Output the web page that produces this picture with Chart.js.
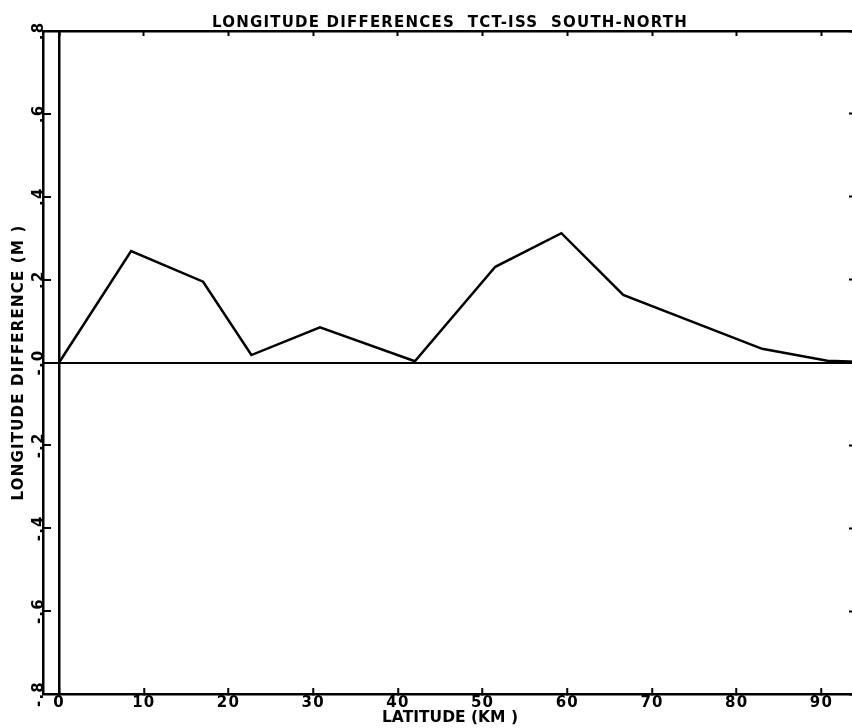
<!DOCTYPE html>
<html>
<head>
<meta charset="utf-8">
<script src="https://cdn.jsdelivr.net/npm/chart.js@4/dist/chart.umd.min.js"></script>
<style>
html,body{margin:0;padding:0;overflow:hidden;background:#fff;width:852px;height:728px}
canvas{display:block}
</style>
</head>
<body>
<canvas id="c" width="864" height="728"></canvas>
<script>
// ---- chart data ----
const titleText = 'LONGITUDE DIFFERENCES  TCT-ISS  SOUTH-NORTH';
const xAxisTitle = 'LATITUDE (KM )';
const yAxisTitle = 'LONGITUDE DIFFERENCE (M )';

const latitudeKm    = [0, 8.5, 17.0, 22.7, 30.8, 42.0, 51.5, 59.3, 66.6, 83.0, 90.7, 94.2];
const longitudeDiff = [0, 0.269, 0.195, 0.018, 0.085, 0.003, 0.231, 0.312, 0.163, 0.033, 0.004, 0.002];

const xTicks      = [0, 10, 20, 30, 40, 50, 60, 70, 80, 90];
const xTickLabels = ['0', '10', '20', '30', '40', '50', '60', '70', '80', '90'];
const yTicks      = [-0.8, -0.6, -0.4, -0.2, 0, 0.2, 0.4, 0.6, 0.8];
const yTickLabels = ['-.8', '-.6', '-.4', '-.2', '-.0', '.2', '.4', '.6', '.8'];

const xMin = -1.9, xMax = 94.2;
const yMin = -0.8, yMax = 0.8;

// ---- helpers ----
const isZero = (c) => c.tick && Math.abs(c.tick.value) < 1e-9;
const xLabel = (v) => { const i = xTicks.findIndex(t => Math.abs(t - v) < 1e-9); return i >= 0 ? xTickLabels[i] : ''; };
const yLabel = (v) => { const i = yTicks.findIndex(t => Math.abs(t - v) < 1e-9); return i >= 0 ? yTickLabels[i] : ''; };
const setTicks = (arr) => (scale) => { scale.ticks = arr.map(v => ({ value: v })); };

const spacingPlugin = {
  id: 'spacing',
  beforeDraw(chart) { chart.ctx.letterSpacing = '1.2px'; },
  afterDatasetsDraw(chart) { chart.ctx.letterSpacing = '0px'; },
  afterDraw(chart) { chart.ctx.letterSpacing = '0px'; }
};

Chart.defaults.font.family = "'DejaVu Sans', sans-serif";
Chart.defaults.font.weight = 'bold';
Chart.defaults.color = '#000';

new Chart(document.getElementById('c'), {
  type: 'line',
  data: {
    datasets: [{
      data: latitudeKm.map((x, i) => ({ x, y: longitudeDiff[i] })),
      borderColor: '#000',
      borderWidth: 2.5,
      pointRadius: 0,
      tension: 0,
      fill: false
    }]
  },
  options: {
    responsive: false,
    devicePixelRatio: 1,
    animation: false,
    layout: { padding: { left: 0, right: 7, top: 0, bottom: 0 } },
    plugins: {
      legend: { display: false },
      tooltip: { enabled: false },
      title: {
        display: true,
        text: titleText,
        fullSize: false,
        color: '#000',
        font: { size: 15, weight: 'bold' },
        padding: { top: 14, bottom: -1 }
      }
    },
    scales: {
      x: {
        type: 'linear', position: 'bottom', min: xMin, max: xMax,
        afterBuildTicks: setTicks(xTicks),
        afterFit: (s) => { s.height = 34; },
        ticks: { callback: xLabel, autoSkip: false, maxRotation: 0, padding: 6, color: '#000', font: { size: 15, weight: 'bold' }, z: 0 },
        grid: { z: 1, color: (c) => isZero(c) ? '#000' : 'rgba(0,0,0,0)', lineWidth: 2.5, drawTicks: true, tickLength: -6, tickColor: '#000', tickWidth: 2 },
        border: { display: true, color: '#000', width: 2.5, z: 1 },
        title: { display: true, text: xAxisTitle, color: '#000', font: { size: 15.5, weight: 'bold' }, padding: { top: 0, bottom: 1 } }
      },
      x2: {
        type: 'linear', position: 'top', min: xMin, max: xMax,
        afterBuildTicks: setTicks(xTicks),
        afterFit: (s) => { s.height = 0; },
        ticks: { display: false },
        grid: { drawOnChartArea: false, color: '#000', drawTicks: true, tickLength: -5, tickColor: '#000', tickWidth: 2 },
        border: { display: true, color: '#000', width: 2.5 }
      },
      y: {
        type: 'linear', position: 'left', min: yMin, max: yMax,
        afterBuildTicks: setTicks(yTicks),
        afterFit: (s) => { s.width = 43; },
        ticks: { callback: yLabel, autoSkip: false, minRotation: 90, maxRotation: 90, crossAlign: 'center', padding: 1, color: '#000', font: { size: 15, weight: 'bold' } },
        grid: { color: (c) => isZero(c) ? '#000' : 'rgba(0,0,0,0)', lineWidth: 2, drawTicks: true, tickLength: -8, tickColor: '#000', tickWidth: 2 },
        border: { display: true, color: '#000', width: 2.5 },
        title: { display: true, text: yAxisTitle, color: '#000', font: { size: 15, weight: 'bold' }, padding: { top: 10, bottom: 0 } }
      },
      y2: {
        type: 'linear', position: 'right', min: yMin, max: yMax,
        afterBuildTicks: setTicks(yTicks),
        afterFit: (s) => { s.width = 0; },
        ticks: { display: false },
        grid: { drawOnChartArea: false, color: '#000', drawTicks: true, tickLength: -8, tickColor: '#000', tickWidth: 2 },
        border: { display: true, color: '#000', width: 2.5 }
      }
    }
  },
  plugins: [spacingPlugin]
});
</script>
</body>
</html>
